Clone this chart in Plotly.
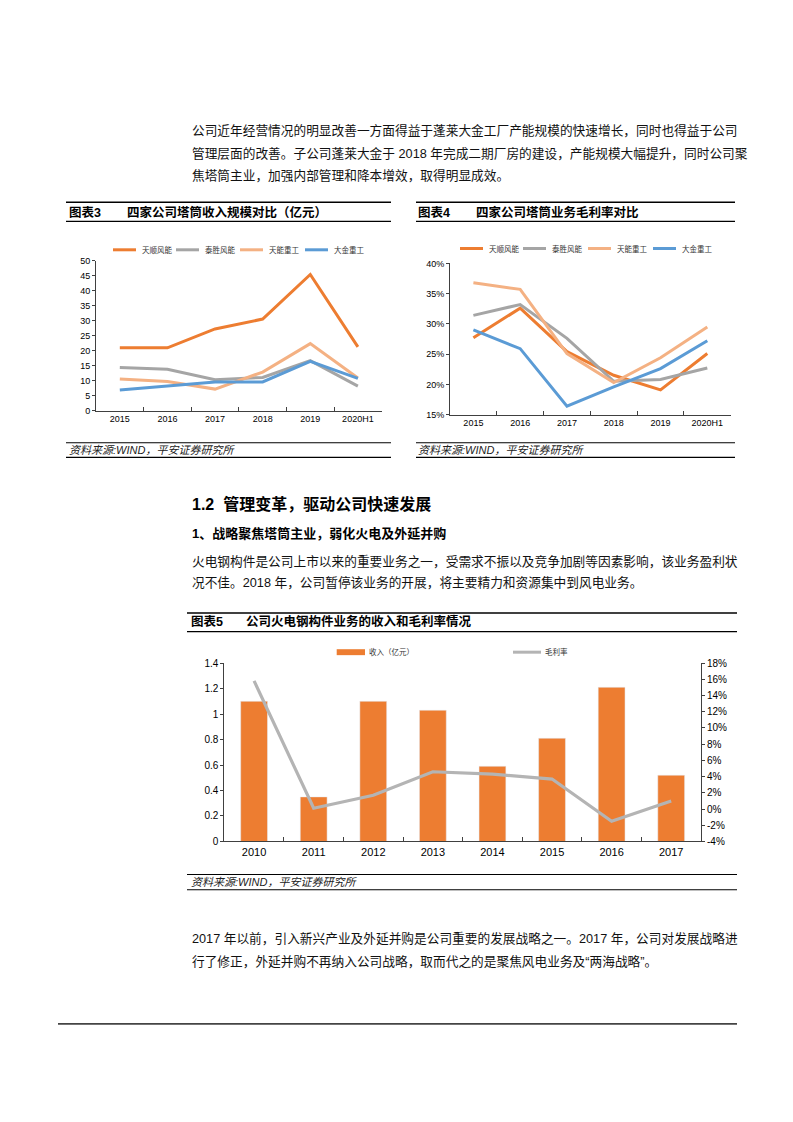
import plotly.graph_objects as go

W, H = 793, 1122


def px(x):
    return x / W


def py(y):
    return 1 - y / H


FONT = "Liberation Sans, Arial, Noto Sans CJK SC, sans-serif"

# ---------------- data ----------------
years_a = ["2015", "2016", "2017", "2018", "2019", "2020H1"]
companies = ["天顺风能", "泰胜风能", "天能重工", "大金重工"]
line_colors = ["#ED7D31", "#A5A5A5", "#F4B183", "#5B9BD5"]

rev_tianshun = [21.0, 21.0, 27.3, 30.6, 45.5, 21.3]
rev_taisheng = [14.4, 13.8, 10.3, 11.1, 16.7, 8.2]
rev_tianneng = [10.6, 9.7, 7.2, 12.9, 22.4, 10.9]
rev_dajin = [6.9, 8.3, 9.6, 9.6, 16.5, 10.8]

gm_tianshun = [27.7, 32.6, 25.4, 21.5, 19.1, 25.1]
gm_taisheng = [31.4, 33.2, 27.6, 20.5, 20.8, 22.7]
gm_tianneng = [36.8, 35.7, 25.1, 20.3, 24.4, 29.5]
gm_dajin = [29.0, 25.9, 16.4, 19.6, 22.6, 27.2]

years_b = ["2010", "2011", "2012", "2013", "2014", "2015", "2016", "2017"]
thermal_revenue = [1.10, 0.35, 1.10, 1.03, 0.59, 0.81, 1.21, 0.52]
thermal_margin = [15.8, 0.1, 1.7, 4.6, 4.3, 3.7, -1.5, 1.0]

left_ticks_a = [0, 5, 10, 15, 20, 25, 30, 35, 40, 45, 50]
left_ticks_b = [15, 20, 25, 30, 35, 40]
left_labels_b = ["15%", "20%", "25%", "30%", "35%", "40%"]
left_ticks_c = [0, 0.2, 0.4, 0.6, 0.8, 1, 1.2, 1.4]
right_ticks_c = [-4, -2, 0, 2, 4, 6, 8, 10, 12, 14, 16, 18]
right_labels_c = ["-4%", "-2%", "0%", "2%", "4%", "6%", "8%", "10%", "12%", "14%", "16%", "18%"]

rev_series = [rev_tianshun, rev_taisheng, rev_tianneng, rev_dajin]
gm_series = [gm_tianshun, gm_taisheng, gm_tianneng, gm_dajin]

fig = go.Figure()

for name, color, vals in zip(companies, line_colors, rev_series):
    fig.add_trace(go.Scatter(x=years_a, y=vals, mode="lines", name=name,
                             line=dict(color=color, width=3), xaxis="x", yaxis="y",
                             showlegend=False))
for name, color, vals in zip(companies, line_colors, gm_series):
    fig.add_trace(go.Scatter(x=years_a, y=vals, mode="lines", name=name,
                             line=dict(color=color, width=3), xaxis="x2", yaxis="y2",
                             showlegend=False))

fig.add_trace(go.Bar(x=years_b, y=thermal_revenue, name="收入（亿元）",
                     marker=dict(color="#ED7D31"), xaxis="x3", yaxis="y3", showlegend=False))
fig.add_trace(go.Scatter(x=years_b, y=thermal_margin, mode="lines", name="毛利率",
                         line=dict(color="#B4B4B4", width=3.2), xaxis="x3", yaxis="y4",
                         showlegend=False))

axis_common = dict(showline=True, linecolor="#404040", linewidth=1, showgrid=False,
                   zeroline=False, tickcolor="#404040")
xcat = dict(type="category", ticks="inside", tickson="boundaries", ticklen=4,
            tickfont=dict(family=FONT, size=9, color="#000"), **axis_common)

fig.update_layout(
    width=W, height=H, margin=dict(l=0, r=0, t=0, b=0),
    paper_bgcolor="white", plot_bgcolor="white", bargap=0.55,
    xaxis=dict(domain=[px(96), px(381.7)], anchor="y", range=[-0.5, 5.5], **xcat),
    yaxis=dict(domain=[py(409.3), py(258.3)], anchor="x", range=[0, 50],
               tickvals=left_ticks_a, ticks="outside", ticklen=3,
               tickfont=dict(family=FONT, size=9, color="#000"), **axis_common),
    xaxis2=dict(domain=[px(450), px(730.7)], anchor="y2", range=[-0.5, 5.5], **xcat),
    yaxis2=dict(domain=[py(413.3), py(260.7)], anchor="x2", range=[15, 40],
                tickvals=left_ticks_b, ticktext=left_labels_b, ticks="outside", ticklen=3,
                tickfont=dict(family=FONT, size=9, color="#000"), **axis_common),
    xaxis3=dict(domain=[px(224.3), px(701)], anchor="y3", range=[-0.5, 7.5],
                type="category", ticks="inside", tickson="boundaries", ticklen=4,
                tickfont=dict(family=FONT, size=11, color="#000"), **axis_common),
    yaxis3=dict(domain=[py(844), py(664)], anchor="x3", range=[0, 1.4],
                tickvals=left_ticks_c, ticks="outside", ticklen=3,
                tickfont=dict(family=FONT, size=10, color="#000"), **axis_common),
    yaxis4=dict(domain=[py(844), py(664)], anchor="x3", overlaying="y3", side="right",
                range=[-4, 18], tickvals=right_ticks_c, ticktext=right_labels_c,
                ticks="outside", ticklen=3,
                tickfont=dict(family=FONT, size=10, color="#000"), **axis_common),
)

shapes = []
annotations = []


def hline(x0, x1, y, w=1.2, color="#000"):
    shapes.append(dict(type="line", xref="paper", yref="paper", x0=px(x0), x1=px(x1),
                       y0=py(y), y1=py(y), line=dict(color=color, width=w)))


def text(x, y, s, size=12.7, bold=False, italic=False, color="#000", anchor="left"):
    if bold:
        s = "<b>" + s + "</b>"
    if italic:
        s = "<i>" + s + "</i>"
    annotations.append(dict(xref="paper", yref="paper", x=px(x), y=py(y), text=s,
                            showarrow=False, xanchor=anchor, yanchor="middle",
                            font=dict(family=FONT, size=size, color=color)))


# body text
body_x = 190
para1 = [
    "公司近年经营情况的明显改善一方面得益于蓬莱大金工厂产能规模的快速增长，同时也得益于公司",
    "管理层面的改善。子公司蓬莱大金于 2018 年完成二期厂房的建设，产能规模大幅提升，同时公司聚",
    "焦塔筒主业，加强内部管理和降本增效，取得明显成效。",
]
for i, s in enumerate(para1):
    text(body_x, 127 + 22.5 * i, s, size=12.7, color="#111")

text(body_x, 503, "1.2  管理变革，驱动公司快速发展", size=16, bold=True)
text(body_x, 533, "1、战略聚焦塔筒主业，弱化火电及外延并购", size=13, bold=True)
para2 = [
    "火电钢构件是公司上市以来的重要业务之一，受需求不振以及竞争加剧等因素影响，该业务盈利状",
    "况不佳。2018 年，公司暂停该业务的开展，将主要精力和资源集中到风电业务。",
]
for i, s in enumerate(para2):
    text(body_x, 561 + 22 * i, s, size=12.7, color="#111")
para3 = [
    "2017 年以前，引入新兴产业及外延并购是公司重要的发展战略之一。2017 年，公司对发展战略进",
    "行了修正，外延并购不再纳入公司战略，取而代之的是聚焦风电业务及“两海战略”。",
]
for i, s in enumerate(para3):
    text(body_x, 942 + 23 * i, s, size=12.7, color="#111")

hline(58, 737, 1028, w=1.6, color="#444")

# chart frames and titles
source = "资料来源:WIND，平安证券研究所"
for (x0, x1, tx, mx, num, title) in [
    (66, 391, 67, 125, "图表3", "四家公司塔筒收入规模对比（亿元）"),
    (416, 735, 416, 474, "图表4", "四家公司塔筒业务毛利率对比"),
]:
    hline(x0, x1, 199, w=1.4)
    hline(x0, x1, 218.3, w=1.2)
    hline(x0, x1, 441.7, w=1.2)
    hline(x0, x1, 456.5, w=1.2)
    text(tx, 209.5, num, size=12.5, bold=True)
    text(mx, 209.5, title, size=12.5, bold=True)
    text(tx, 449.5, source, size=11, italic=True, color="#222")

hline(187, 737, 613.5, w=1.4)
hline(187, 737, 632.3, w=1.2)
hline(187, 737, 877.3, w=1.2)
hline(187, 737, 892.7, w=1.2)
text(189, 622.5, "图表5", size=12.5, bold=True)
text(244, 622.5, "公司火电钢构件业务的收入和毛利率情况", size=12.5, bold=True)
text(189, 885, source, size=11, italic=True, color="#222")

# legends
for starts, ly in [([113, 176, 240, 305], 247), ([460, 523, 588, 653], 245.7)]:
    for sx, name, color in zip(starts, companies, line_colors):
        hline(sx, sx + 23, ly, w=3, color=color)
        text(sx + 27, ly, name, size=7.5, color="#333")

shapes.append(dict(type="rect", xref="paper", yref="paper", x0=px(336.7), x1=px(365),
                   y0=py(656), y1=py(650), fillcolor="#ED7D31", line=dict(width=0)))
text(367, 653, "收入（亿元）", size=7.5, color="#333")
hline(513, 541, 653, w=3, color="#B4B4B4")
text(543, 653, "毛利率", size=7.5, color="#333")

fig.update_layout(shapes=shapes, annotations=annotations)
fig.write_html("out.html", config={"displayModeBar": False},
               post_script="document.body.style.margin='0';document.body.style.padding='0';")
